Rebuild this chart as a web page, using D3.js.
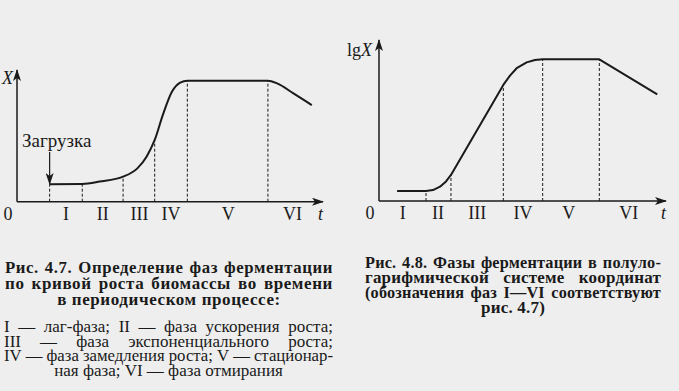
<!DOCTYPE html>
<html>
<head>
<meta charset="utf-8">
<script src="https://cdn.jsdelivr.net/npm/d3@7"></script>
<style>
  body { margin: 0; background: #eeeeee; }
  svg text { font-family: "Liberation Serif", "DejaVu Serif", serif; }
</style>
</head>
<body>
<script>
// phases and curve points (t in arbitrary time units, X in arbitrary units)
var phases = ["I", "II", "III", "IV", "V", "VI"];

var growthT = [3.2, 6.4, 8.1, 10.4, 11.8, 12.7, 13.5, 14.3, 15.2, 16.0, 16.7, 24.6, 25.5, 27.1, 28.9];
var growthX = [1.35, 1.37, 1.55, 1.93, 2.57, 3.47, 4.76, 6.69, 8.49, 9.18, 9.33, 9.33, 9.12, 8.35, 7.45];
var growthBounds = [3.2, 6.4, 10.4, 13.5, 16.7, 24.6];
var growthLabelT = [4.8, 8.4, 12.0, 15.1, 20.7, 27.0];

var logT = [1.9, 4.93, 5.66, 6.4, 7.03, 7.55, 13.04, 13.74, 14.44, 15.49, 16.36, 17.17, 23.11, 29.19];
var logX = [0.63, 0.63, 0.69, 0.9, 1.23, 1.64, 7.3, 7.89, 8.35, 8.72, 8.87, 8.91, 8.91, 6.71];
var logBounds = [4.93, 7.55, 13.04, 17.17, 23.11];
var logLabelT = [2.5, 6.2, 10.3, 15.1, 19.9, 26.2];

var captionLeft = [
  "Рис. 4.7. Определение фаз ферментации",
  "по кривой роста биомассы во времени",
  "в периодическом процессе:"
];
var legendLeft = [
  "I — лаг-фаза; II — фаза ускорения роста;",
  "III — фаза экспоненциального роста;",
  "IV — фаза замедления роста; V — стационар-",
  "ная фаза; VI — фаза отмирания"
];
var captionRight = [
  "Рис. 4.8. Фазы ферментации в полуло-",
  "гарифмической системе координат",
  "(обозначения фаз I—VI соответствуют",
  "рис. 4.7)"
];

var svg = d3.select("body").append("svg")
    .attr("width", 679)
    .attr("height", 391);

svg.append("defs").append("marker")
    .attr("id", "arrow")
    .attr("viewBox", "0 0 12 8")
    .attr("refX", 11)
    .attr("refY", 4)
    .attr("markerWidth", 12)
    .attr("markerHeight", 8)
    .attr("markerUnits", "userSpaceOnUse")
    .attr("orient", "auto")
  .append("path")
    .attr("d", "M0,0 L12,4 L0,8 L3,4 Z")
    .attr("fill", "#1a1a1a");

function drawChart(o) {
  var x = d3.scaleLinear().domain([0, 30]).range([o.x0, o.x1]);
  var y = d3.scaleLinear().domain([0, 10]).range([o.y0, o.y1]);
  var g = svg.append("g");

  var pts = o.t.map(function(d, i) { return [d, o.v[i]]; });
  var line = d3.line()
      .x(function(d) { return x(d[0]); })
      .y(function(d) { return y(d[1]); })
      .curve(o.curve);

  var path = g.append("path")
      .datum(pts)
      .attr("d", line)
      .attr("fill", "none")
      .attr("stroke", "#1a1a1a")
      .attr("stroke-width", 2)
      .attr("stroke-linejoin", "round");

  // height of the curve at a given x, found along the drawn path
  var node = path.node(), len = node.getTotalLength();
  function curveY(px) {
    var lo = 0, hi = len;
    for (var k = 0; k < 40; k++) {
      var mid = (lo + hi) / 2;
      if (node.getPointAtLength(mid).x < px) lo = mid; else hi = mid;
    }
    return node.getPointAtLength(lo).y;
  }

  g.selectAll(".phase")
      .data(o.bounds)
    .enter().append("line")
      .attr("x1", function(d) { return x(d); })
      .attr("x2", function(d) { return x(d); })
      .attr("y1", o.y0)
      .attr("y2", function(d) { return curveY(x(d)); })
      .attr("stroke", "#1a1a1a")
      .attr("stroke-width", 1)
      .attr("stroke-dasharray", "3,2");

  // axes
  g.append("line")
      .attr("x1", o.x0).attr("y1", o.y0)
      .attr("x2", o.x0).attr("y2", o.yTop)
      .attr("stroke", "#1a1a1a").attr("stroke-width", 1.5)
      .attr("marker-end", "url(#arrow)");
  g.append("line")
      .attr("x1", o.x0).attr("y1", o.y0)
      .attr("x2", o.xEnd).attr("y2", o.y0)
      .attr("stroke", "#1a1a1a").attr("stroke-width", 1.5)
      .attr("marker-end", "url(#arrow)");

  g.selectAll(".num")
      .data(phases)
    .enter().append("text")
      .attr("x", function(d, i) { return x(o.labelT[i]); })
      .attr("y", o.y0 + 18)
      .attr("text-anchor", "middle")
      .attr("font-size", "18px")
      .attr("fill", "#1a1a1a")
      .text(function(d) { return d; });

  g.append("text")
      .attr("x", o.x0 - 9).attr("y", o.y0 + 18)
      .attr("text-anchor", "middle")
      .attr("font-size", "18px")
      .attr("fill", "#1a1a1a")
      .text("0");
  g.append("text")
      .attr("x", o.xEnd - 5).attr("y", o.y0 + 18)
      .attr("font-size", "18px")
      .attr("font-style", "italic")
      .attr("fill", "#1a1a1a")
      .text("t");
  return { x: x, y: y, g: g };
}

var left = drawChart({
  x0: 17, x1: 323, y0: 201.7, y1: 72, yTop: 70, xEnd: 323,
  t: growthT, v: growthX, bounds: growthBounds, labelT: growthLabelT,
  curve: d3.curveMonotoneX
});
left.g.append("text")
    .attr("x", 2).attr("y", 84)
    .attr("font-size", "18px").attr("font-style", "italic")
    .attr("fill", "#1a1a1a")
    .text("X");
left.g.append("text")
    .attr("x", 22).attr("y", 147)
    .attr("font-size", "19px").attr("fill", "#1a1a1a")
    .text("Загрузка");
left.g.append("line")
    .attr("x1", left.x(growthT[0])).attr("y1", 152)
    .attr("x2", left.x(growthT[0])).attr("y2", 184)
    .attr("stroke", "#1a1a1a").attr("stroke-width", 1.2)
    .attr("marker-end", "url(#arrow)");

var right = drawChart({
  x0: 379, x1: 665, y0: 201, y1: 42, yTop: 40, xEnd: 666,
  t: logT, v: logX, bounds: logBounds, labelT: logLabelT,
  curve: d3.curveLinear
});
var lg = right.g.append("text")
    .attr("x", 347).attr("y", 56)
    .attr("font-size", "18px").attr("fill", "#1a1a1a");
lg.append("tspan").text("lg");
lg.append("tspan").attr("font-style", "italic").text("X");

// justified text block, one text element per word;
// a line that is too long for its column gets a slightly smaller font
function textBlock(lines, x0, x1, y, step, size, weight, centerLast, ls, minGap) {
  lines.forEach(function(s, i) {
    var yy = y + i * step;
    function word(w) {
      return svg.append("text")
          .attr("y", yy)
          .attr("font-size", size + "px")
          .attr("font-weight", weight)
          .attr("letter-spacing", ls)
          .attr("fill", "#1a1a1a")
          .text(w);
    }
    if (centerLast && i === lines.length - 1) {
      word(s).attr("x", (x0 + x1) / 2).attr("text-anchor", "middle");
      return;
    }
    var words = s.split(" ").map(word);
    var fs = size, widths, gap;
    for (var k = 0; k < 12; k++) {
      widths = words.map(function(t) { return t.node().getComputedTextLength(); });
      gap = (x1 - x0 - d3.sum(widths)) / (words.length - 1);
      if (gap >= minGap) break;
      fs -= 0.25;
      words.forEach(function(t) { t.attr("font-size", fs + "px"); });
    }
    var cx = x0;
    words.forEach(function(t, j) {
      t.attr("x", cx);
      cx += widths[j] + gap;
    });
  });
}

textBlock(captionLeft, 5, 333, 273, 16, 17, "bold", true, 0.6, 5);
textBlock(legendLeft, 4, 333, 332, 14.5, 17, "normal", true, 0, 4);
textBlock(captionRight, 365, 661, 268, 15, 17, "bold", true, 0.2, 5);
</script>
</body>
</html>
